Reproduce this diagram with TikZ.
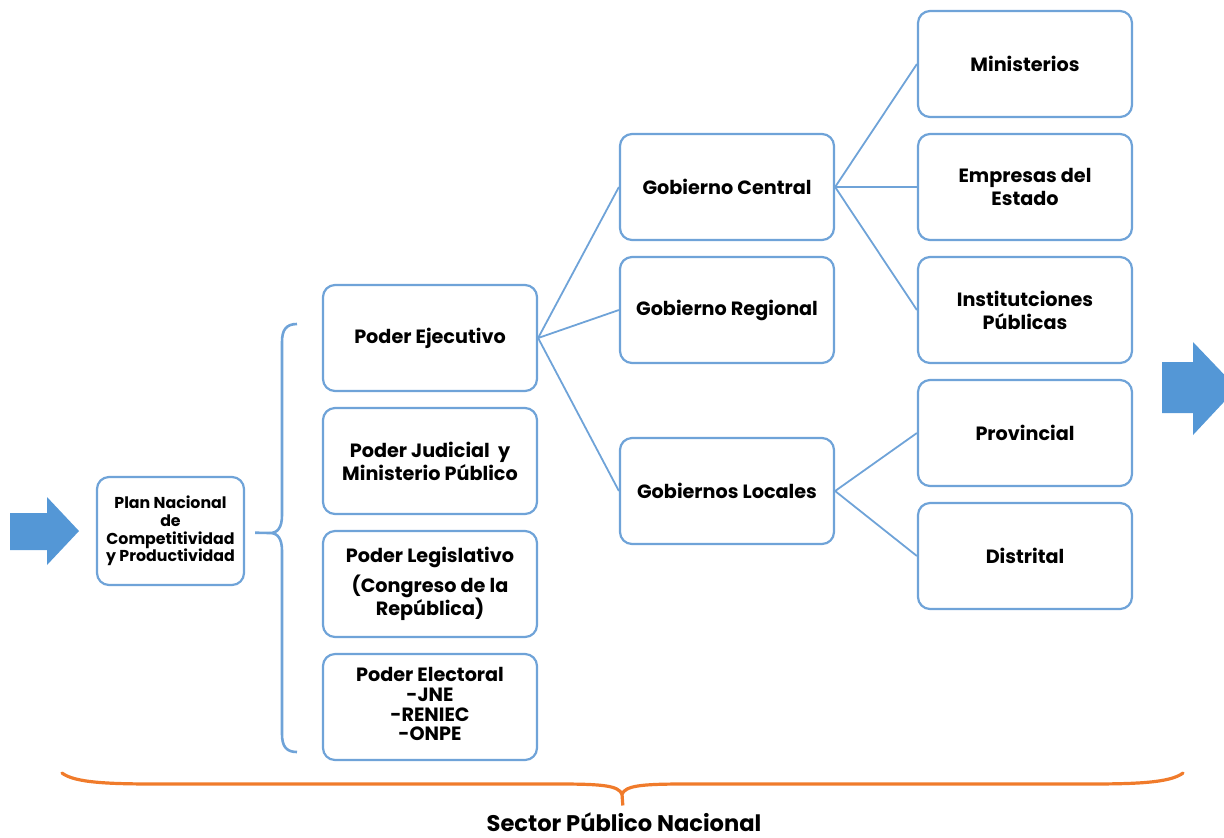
\documentclass[tikz,border=0pt]{standalone}
\usepackage{fontspec}
\setmainfont{Poppins}
\usetikzlibrary{positioning}

\definecolor{boxblue}{HTML}{6FA3D8}
\definecolor{arrowblue}{HTML}{5497D6}
\definecolor{braceorange}{HTML}{F07B2B}

\begin{document}
\begin{tikzpicture}[x=0.5pt,y=-0.5pt,node distance=61.5pt,
  main node/.style={draw=boxblue,line width=1.1pt,rounded corners=6pt,fill=white,
    minimum width=107pt,minimum height=53pt,inner sep=2pt,align=center,
    font=\bfseries\fontsize{9.6}{11.5}\selectfont},
  plan node/.style={main node,minimum width=73.5pt,minimum height=54pt,
    font=\bfseries\fontsize{7.9}{8.8}\selectfont}]

  \useasboundingbox (0,0) rectangle (1224,837);
  \clip (0,0) rectangle (1224,837);

  \node[plan node] (0) at (170.5,531) {Plan Nacional\\de\\Competitividad\\y Productividad};
  \node[main node] (1) at (430,338) {Poder Ejecutivo};
  \node[main node] (2) [below of=1] {Poder Judicial \ y\\Ministerio Público};
  \node[main node] (3) [below of=2] {Poder Legislativo\\[3.5pt](Congreso de la\\República)};
  \node[main node,font=\bfseries\fontsize{9.6}{9.9}\selectfont] (4) [below of=3]
    {Poder Electoral\\-JNE\\-RENIEC\\-ONPE\\[-7pt]};
  \node[main node] (5) at (727,187) {Gobierno Central};
  \node[main node] (6) [below of=5] {Gobierno Regional};
  \node[main node] (7) at (727,491) {Gobiernos Locales};
  \node[main node] (8) at (1025,64) {Ministerios};
  \node[main node] (9) [below of=8] {Empresas del\\Estado};
  \node[main node] (10) [below of=9] {Institutciones\\Públicas};
  \node[main node] (11) [below of=10] {Provincial};
  \node[main node] (12) [below of=11] {Distrital};
  \node[font=\bfseries\fontsize{11.3}{13}\selectfont] (13) at (624,822) {Sector Público Nacional};

  \coordinate (b) at (270,533);
  \coordinate (o) at (622,794);

  % big arrows in and out
  \fill[arrowblue] (10,513) -- (47,513) -- (47,497) -- (79,531) -- (47,565)
    -- (47,550) -- (10,550) -- cycle;
  \fill[arrowblue] (1162,362) -- (1193,362) -- (1193,342) -- (1237,388)
    -- (1193,435) -- (1193,413) -- (1162,413) -- cycle;

  % braces
  \draw[boxblue,line width=1.3pt] (297,324) .. controls (286,324) and (282,330) .. (282,342)
    -- (282,515) .. controls (282,527) and (278,533) .. (b)
    .. controls (278,533) and (282,539) .. (282,551)
    -- (282,734) .. controls (282,746) and (286,752) .. (297,752);
  \draw[braceorange,line width=1.6pt,line cap=round] (62,773)
    .. controls (75,783) and (110,784) .. (160,784) -- (560,784)
    .. controls (605,784) and (618,786) .. (o)
    .. controls (626,786) and (639,784) .. (684,784) -- (1085,784)
    .. controls (1135,784) and (1170,783) .. (1183,773);

  \path[every edge/.style={draw,boxblue,line width=0.9pt}]
    (0) edge[shorten <=5pt,line width=1.3pt] (b)
    (1.east) edge (5.west)
    (1.east) edge (6.west)
    (1.east) edge (7.west)
    (5.east) edge (8.west)
    (5.east) edge (9.west)
    (5.east) edge (10.west)
    (7.east) edge (11.west)
    (7.east) edge (12.west);
  \path (o) edge[draw,braceorange,line width=1.6pt] (13);

\end{tikzpicture}
\end{document}
